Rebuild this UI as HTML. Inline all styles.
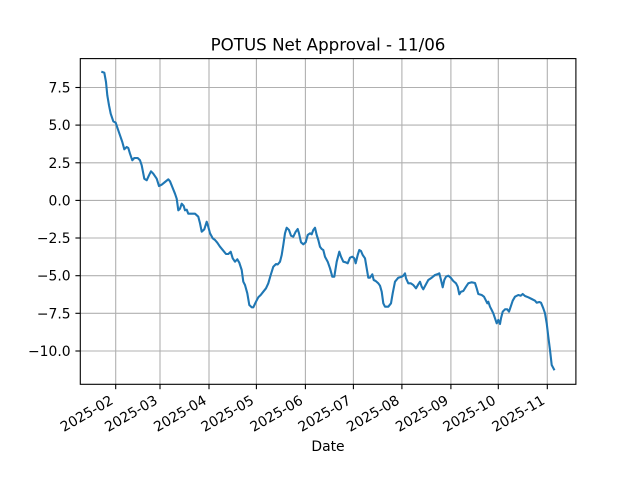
<!DOCTYPE html>
<html><head><meta charset="utf-8"><style>
html,body{margin:0;padding:0;background:#fff;}
svg{display:block;}
text{font-family:"DejaVu Sans","Liberation Sans",sans-serif;fill:#000;}
</style></head><body>
<svg width="640" height="480" viewBox="0 0 640 480" xmlns="http://www.w3.org/2000/svg">
<rect width="640" height="480" fill="#fff"/>
<!-- grid -->
<g stroke="#b0b0b0" stroke-width="1.1">
<line x1="115.7" y1="58.6" x2="115.7" y2="384.3"/>
<line x1="160.0" y1="58.6" x2="160.0" y2="384.3"/>
<line x1="209.0" y1="58.6" x2="209.0" y2="384.3"/>
<line x1="256.4" y1="58.6" x2="256.4" y2="384.3"/>
<line x1="305.4" y1="58.6" x2="305.4" y2="384.3"/>
<line x1="353.4" y1="58.6" x2="353.4" y2="384.3"/>
<line x1="401.9" y1="58.6" x2="401.9" y2="384.3"/>
<line x1="450.9" y1="58.6" x2="450.9" y2="384.3"/>
<line x1="498.3" y1="58.6" x2="498.3" y2="384.3"/>
<line x1="547.3" y1="58.6" x2="547.3" y2="384.3"/>
<line x1="80.3" y1="87.5" x2="575.9" y2="87.5"/>
<line x1="80.3" y1="125.1" x2="575.9" y2="125.1"/>
<line x1="80.3" y1="162.8" x2="575.9" y2="162.8"/>
<line x1="80.3" y1="200.4" x2="575.9" y2="200.4"/>
<line x1="80.3" y1="238.0" x2="575.9" y2="238.0"/>
<line x1="80.3" y1="275.7" x2="575.9" y2="275.7"/>
<line x1="80.3" y1="313.3" x2="575.9" y2="313.3"/>
<line x1="80.3" y1="351.0" x2="575.9" y2="351.0"/>
</g>
<!-- data -->
<polyline fill="none" stroke="#1f77b4" stroke-width="2.1" stroke-linejoin="round" stroke-linecap="square" points="102.3,72 104.3,72.7 106,82 107.3,95.3 109,105.3 110.7,113.7 113.3,121.3 115.7,122.7 117.7,128.7 120,135.3 122.3,142 124.3,149.3 126.7,147 128.3,148 130,153.7 132.3,160.3 134.3,158 137.7,158 140,160.3 141.7,165.3 144.3,178.7 146.7,180.3 149,175.3 151,171.3 153.3,173.7 156.7,178.7 159,186 161.7,184.7 165,182 168.3,179.3 170,181.3 172.3,187 175,193.7 176.7,198.7 178.3,210.3 180,208.7 181.7,203.7 183.7,206 185,210.3 186.7,209.7 188.3,213.7 195,213.7 198.3,216.7 200,223.3 201.7,231.7 204.3,229.3 206.7,221.7 208.3,226.7 210,233.3 212.7,238.3 215,240 217.3,242.7 220,246.7 223.3,250.7 226,254 228.3,254 230.7,251.7 232.7,258.3 235,261.7 237.3,259.3 239.3,262.7 241.7,270 243.3,281.7 245,285 247.3,293.3 249.3,305 251.7,307.3 253.3,307.3 256,301.7 258.3,297.3 260.7,295 263.3,291.7 266,288.3 268.3,283.3 270.7,275 273.3,266.7 276,264 277.7,264.5 280,261.7 281.7,255 283.3,245 285,233.3 286.7,227.7 289,230 291,235.7 293.3,236.7 295.7,231.7 297.7,229 299,233.3 301,242.3 303.3,244.3 305.7,242.3 307.7,235 310,233.3 311.7,234.3 313.3,230 315,227.7 316.7,235 318.3,240 320,246.7 321.7,249 323.3,250 325,256.7 327.7,261.7 330,268.3 332.3,276.7 334.3,276.7 336.7,261.7 339.3,251.7 341,256.7 343.3,261.7 345.7,262.3 347.7,263.3 350,257.7 352.3,256.7 354.3,258.3 355.7,263.3 357.7,255 359.3,250 361,251 362.7,255 365,258.3 366.7,268.3 368.3,277.7 370,277.7 372.3,274.3 373.7,280 375.7,281 378.3,283.3 380,285.7 381.7,291.7 383.3,303.3 385,306.7 388.3,306.7 391,303.3 392.7,293.3 395,281.7 398.3,277.7 401.7,276.7 403.3,275.7 405,273.3 406,278.3 408.3,283.3 410.7,283.3 413.3,285 416,288.3 418.3,284.3 420,281.7 421.7,286.7 423.3,289.3 426,284.3 428.3,280 431.7,277.7 435,275 437.3,274.3 439.3,273.3 441,280 442.7,287.3 444.3,280 446,276.7 448.3,275.7 450.7,277.7 453.3,281 456,283.3 457.7,286.7 459.3,294.3 461,291.7 463.3,291 466,286.7 468.3,283.3 471.7,282.3 475,283 476.7,288.3 478.3,294 481.7,295 484,296.7 486,300.7 487.3,303.3 488.3,301.7 490,306.7 491.7,310 493.3,313.3 495,318.3 496.7,323.3 498.3,320 500,324 501,318.3 502.7,311.7 505,309.3 507.3,309.3 509,311.7 510.7,306.7 512.7,300.7 515,296.7 518.3,295 520.7,295.7 522.7,294 525,296 528.3,297.3 531.7,299 535,300.7 536.7,302.7 539.3,302 541,302.7 543.3,308.3 545,313.3 546.7,323.3 548.3,336.7 550,350 551.7,365 554,369.3"/>
<!-- spines -->
<rect x="80.3" y="58.6" width="495.6" height="325.7" fill="none" stroke="#000" stroke-width="1.1"/>
<!-- ticks -->
<g stroke="#000" stroke-width="1.1">
<line x1="115.7" y1="384.3" x2="115.7" y2="389.2"/>
<line x1="160.0" y1="384.3" x2="160.0" y2="389.2"/>
<line x1="209.0" y1="384.3" x2="209.0" y2="389.2"/>
<line x1="256.4" y1="384.3" x2="256.4" y2="389.2"/>
<line x1="305.4" y1="384.3" x2="305.4" y2="389.2"/>
<line x1="353.4" y1="384.3" x2="353.4" y2="389.2"/>
<line x1="401.9" y1="384.3" x2="401.9" y2="389.2"/>
<line x1="450.9" y1="384.3" x2="450.9" y2="389.2"/>
<line x1="498.3" y1="384.3" x2="498.3" y2="389.2"/>
<line x1="547.3" y1="384.3" x2="547.3" y2="389.2"/>
<line x1="75.4" y1="87.5" x2="80.3" y2="87.5"/>
<line x1="75.4" y1="125.1" x2="80.3" y2="125.1"/>
<line x1="75.4" y1="162.8" x2="80.3" y2="162.8"/>
<line x1="75.4" y1="200.4" x2="80.3" y2="200.4"/>
<line x1="75.4" y1="238.0" x2="80.3" y2="238.0"/>
<line x1="75.4" y1="275.7" x2="80.3" y2="275.7"/>
<line x1="75.4" y1="313.3" x2="80.3" y2="313.3"/>
<line x1="75.4" y1="351.0" x2="80.3" y2="351.0"/>
</g>
<!-- y labels -->
<g font-size="13.9" text-anchor="end">
<text x="70.6" y="92.5">7.5</text>
<text x="70.6" y="130.1">5.0</text>
<text x="70.6" y="167.8">2.5</text>
<text x="70.6" y="205.4">0.0</text>
<text x="70.6" y="243.0">−2.5</text>
<text x="70.6" y="280.7">−5.0</text>
<text x="70.6" y="318.3">−7.5</text>
<text x="70.6" y="356.0">−10.0</text>
</g>
<!-- x labels -->
<g font-size="13.9" text-anchor="end">
<text x="114.2" y="403.1" transform="rotate(-30 114.2 403.1)">2025-02</text>
<text x="158.5" y="403.1" transform="rotate(-30 158.5 403.1)">2025-03</text>
<text x="207.5" y="403.1" transform="rotate(-30 207.5 403.1)">2025-04</text>
<text x="254.9" y="403.1" transform="rotate(-30 254.9 403.1)">2025-05</text>
<text x="303.9" y="403.1" transform="rotate(-30 303.9 403.1)">2025-06</text>
<text x="351.9" y="403.1" transform="rotate(-30 351.9 403.1)">2025-07</text>
<text x="400.4" y="403.1" transform="rotate(-30 400.4 403.1)">2025-08</text>
<text x="449.4" y="403.1" transform="rotate(-30 449.4 403.1)">2025-09</text>
<text x="496.8" y="403.1" transform="rotate(-30 496.8 403.1)">2025-10</text>
<text x="545.8" y="403.1" transform="rotate(-30 545.8 403.1)">2025-11</text>
</g>
<text x="328" y="451" font-size="13.9" text-anchor="middle">Date</text>
<text x="328" y="50.3" font-size="16.7" text-anchor="middle">POTUS Net Approval - 11/06</text>
</svg>
</body></html>
